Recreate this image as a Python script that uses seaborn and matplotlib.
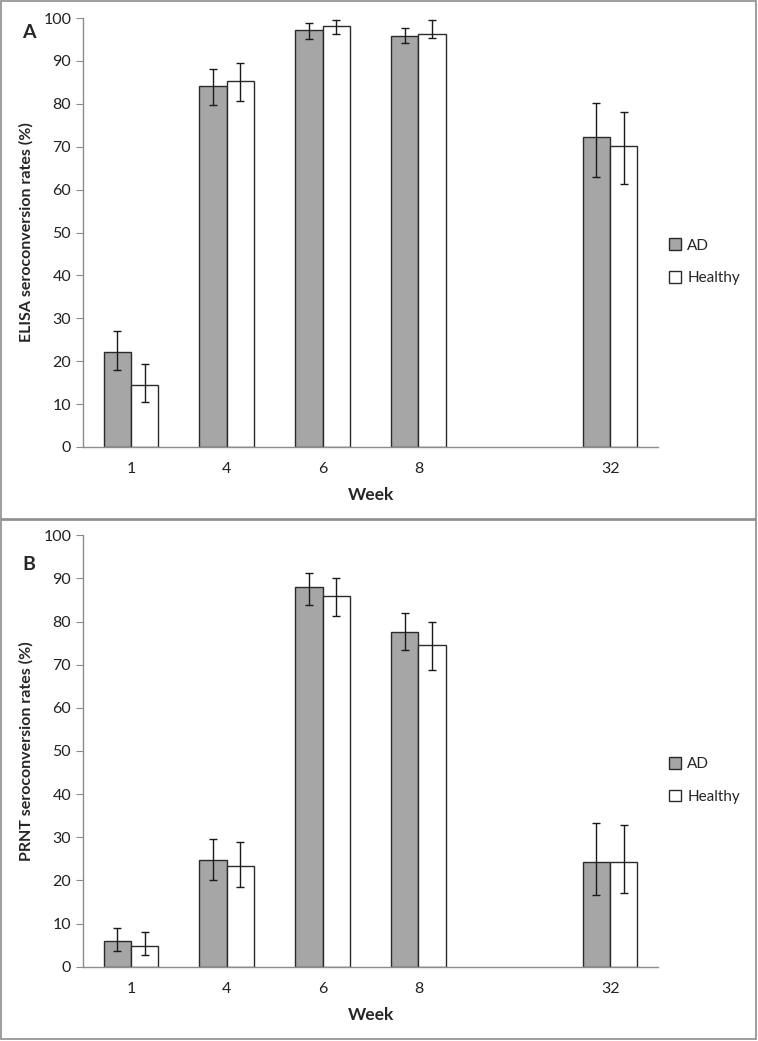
import pandas as pd
import numpy as np
import matplotlib.pyplot as plt
import seaborn as sns
from matplotlib.patches import Rectangle
from matplotlib.ticker import FixedLocator, MultipleLocator

weeks = ['1', '4', '6', '8', '32']
slots = ['1', '4', '6', '8', ' ', '32']
groups = ['AD', 'Healthy']

elisa_ad = [22.2, 84.1, 97.3, 95.9, 72.2]
elisa_ad_hi = [27.0, 88.0, 98.8, 97.7, 80.3]
elisa_ad_lo = [17.9, 79.7, 95.0, 94.1, 62.9]
elisa_h = [14.5, 85.4, 98.2, 96.3, 70.2]
elisa_h_hi = [19.3, 89.4, 99.5, 99.6, 78.0]
elisa_h_lo = [10.5, 80.7, 96.3, 95.4, 61.4]

prnt_ad = [6.0, 24.7, 87.9, 77.7, 24.3]
prnt_ad_hi = [9.0, 29.7, 91.3, 82.1, 33.4]
prnt_ad_lo = [3.6, 20.2, 83.9, 73.4, 16.7]
prnt_h = [4.9, 23.3, 85.9, 74.5, 24.2]
prnt_h_hi = [8.1, 28.8, 90.0, 79.8, 32.8]
prnt_h_lo = [2.6, 18.5, 81.2, 68.8, 17.0]

sns.set_style('white')
plt.rcParams['font.family'] = ['Lato', 'DejaVu Sans']

fig = plt.figure(figsize=(7.58, 10.41), dpi=100)
W, H = 758, 1041

# panel frames
for top, bot in [(1, 519), (520, 1039)]:
    fig.patches.append(Rectangle((1 / W, 1 - bot / H), 755 / W, (bot - top) / H,
                                 transform=fig.transFigure, fill=False,
                                 edgecolor='#8c8c8c', linewidth=1.2))

bar_w = 0.57


def panel(rect, ad, ad_hi, ad_lo, h, h_hi, h_lo, ylabel, letter, letter_y):
    ax = fig.add_axes(rect)
    df = pd.DataFrame({
        'week': weeks * 2,
        'group': ['AD'] * len(weeks) + ['Healthy'] * len(weeks),
        'rate': ad + h,
    })
    sns.barplot(data=df, x='week', y='rate', hue='group', order=slots,
                hue_order=groups, palette=['#a6a6a6', 'white'], width=bar_w,
                edgecolor='#2b2b2b', linewidth=1.0, errorbar=None, ax=ax)
    for k, (vals, hi, lo) in enumerate([(ad, ad_hi, ad_lo), (h, h_hi, h_lo)]):
        xs = [slots.index(w) + (k - 0.5) * bar_w / 2 for w in weeks]
        vals = np.array(vals)
        err = np.array([vals - np.array(lo), np.array(hi) - vals])
        ax.errorbar(xs, vals, yerr=err, fmt='none', ecolor='#1a1a1a',
                    elinewidth=1.0, capsize=3, capthick=1.0, zorder=5)
    ax.set_xlim(-0.5, len(slots) - 0.5)
    ax.set_ylim(0, 100)
    ax.yaxis.set_major_locator(MultipleLocator(10))
    ax.set_xticks(range(len(slots)))
    ax.set_xticklabels(slots)
    ax.xaxis.set_minor_locator(FixedLocator(np.arange(-0.5, len(slots), 1)))
    ax.tick_params(axis='x', which='major', length=0, pad=11, labelsize=11.5,
                   colors='#222222')
    ax.tick_params(axis='x', which='minor', length=5, color='#8c8c8c', direction='out')
    ax.tick_params(axis='y', length=5, color='#8c8c8c', direction='out',
                   labelsize=11.5, labelcolor='#222222', left=True)
    for s in ['top', 'right']:
        ax.spines[s].set_visible(False)
    for s in ['left', 'bottom']:
        ax.spines[s].set_color('#8c8c8c')
        ax.spines[s].set_linewidth(1.0)
    ax.set_xlabel('Week', fontsize=12.5, fontweight='bold', labelpad=8)
    ax.set_ylabel(ylabel, fontsize=11.5, fontweight='bold', labelpad=7)
    ax.legend(loc='center left', bbox_to_anchor=(0.995, 0.432), frameon=False,
              fontsize=11, labelspacing=1.2, handlelength=0.8,
              handleheight=0.8, handletextpad=0.4)
    for p in ax.get_legend().get_patches():
        p.set_edgecolor('#2b2b2b')
    fig.text(22 / W, 1 - letter_y / H, letter, fontsize=14, fontweight='bold',
             va='center', ha='left')
    return ax


panel([83 / W, 1 - 447 / H, 575 / W, 429 / H], elisa_ad, elisa_ad_hi, elisa_ad_lo,
      elisa_h, elisa_h_hi, elisa_h_lo, 'ELISA seroconversion rates (%)', 'A', 33)
panel([83 / W, 1 - 966.7 / H, 575 / W, 431.4 / H], prnt_ad, prnt_ad_hi, prnt_ad_lo,
      prnt_h, prnt_h_hi, prnt_h_lo, 'PRNT seroconversion rates (%)', 'B', 565)

fig.savefig('out.png', dpi=100)
